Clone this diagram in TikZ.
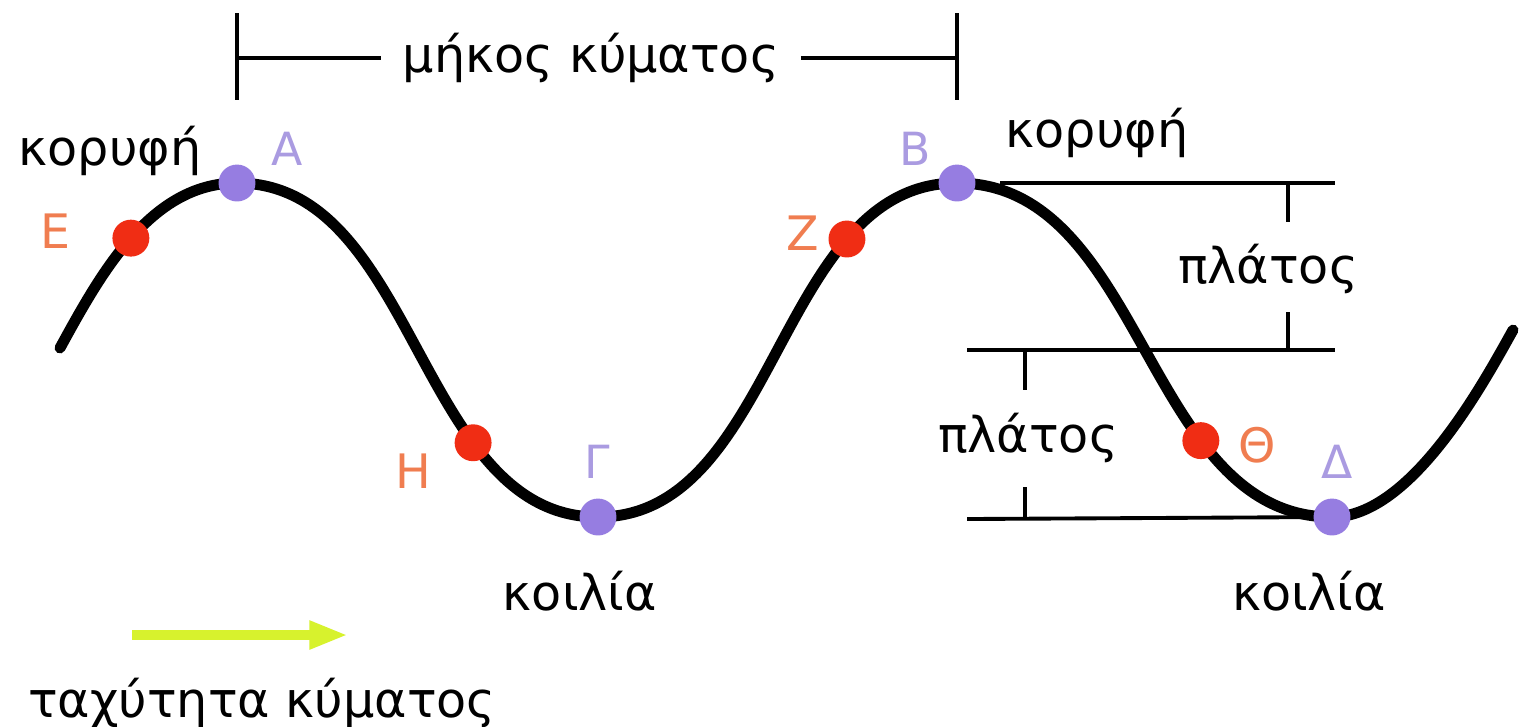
\documentclass[tikz,border=0pt]{standalone}
\usepackage{fontspec}
\setmainfont{DejaVu Sans}
\usepackage{tikz}
\usetikzlibrary{arrows.meta,positioning}
\definecolor{crestpurple}{RGB}{150,125,225}
\definecolor{letterpurple}{RGB}{170,155,225}
\definecolor{pointred}{RGB}{240,45,20}
\definecolor{letterorange}{RGB}{240,125,80}
\definecolor{speedgreen}{RGB}{215,242,45}
\tikzset{
  wave/.style={line width=3.1pt,line cap=round},
  bar/.style={line width=1.1pt},
  purpdot/.style={circle,fill=crestpurple,inner sep=0pt,minimum size=10.5pt},
  reddot/.style={circle,fill=pointred,inner sep=0pt,minimum size=10.5pt},
  purplabel/.style={text=letterpurple,font=\fontsize{13}{15}\selectfont,anchor=base},
  redlabel/.style={text=letterorange,font=\fontsize{13.5}{15}\selectfont,anchor=base},
  word/.style={font=\fontsize{14}{16}\selectfont,anchor=base}
}

\begin{document}
\begin{tikzpicture}[x=0.01cm,y=-0.01cm,line join=round]
\useasboundingbox[fill=white] (0,0) rectangle (1519,726);
% the wave with its points
\draw[wave] (60,348) .. controls (100,275) and (150,183) .. (237,183)
  node[pos=0.5,reddot] (E) {} node[purpdot] (A) {}
  .. controls (417,183) and (418,517) .. (598,517)
  node[pos=0.695,reddot] (H) {} node[purpdot] (G) {}
  .. controls (778,517) and (777,183) .. (957,183)
  node[pos=0.74,reddot] (Z) {} node[purpdot] (B) {}
  .. controls (1145,183) and (1145,517) .. (1332,517)
  node[pos=0.69,reddot] (Th) {} node[purpdot] (D) {}
  .. controls (1412,517) and (1485,380) .. (1513,330);
% point letters
\node[purplabel] (lA) at (287,165) {Α};
\node[purplabel] (lB) at (915,165) {Β};
\node[purplabel] (lG) at (597,478) {Γ};
\node[purplabel] (lD) at (1337,478) {Δ};
\node[redlabel] (lE) at (55,248) {Ε};
\node[redlabel] (lZ) at (803,250) {Ζ};
\node[redlabel] (lH) at (413,488) {Η};
\node[redlabel] (lTh) at (1257,462) {Θ};
% words
\node[word] (crestL) at (110,165) {κορυφή};
\node[word] (crestR) at (1097,147) {κορυφή};
\node[word] (troughL) at (580,610) {κοιλία};
\node[word] (troughR) at (1309,610) {κοιλία};
\node[word] (ampU) at (1268,283) {πλάτος};
\node[word] (ampL) at (1028,452) {πλάτος};
\node[word] (speed) at (262,717) {ταχύτητα κύματος};
% wavelength
\node[word,inner sep=6pt] (wl) at (591,72) {μήκος κύματος};
\coordinate (wlL) at (237,58);
\coordinate (wlR) at (957,58);
\draw[bar] (237,13) -- (237,100);
\draw[bar] (957,13) -- (957,100);
\draw[bar] (wlL) -- (wlL -| wl.west);
\draw[bar] (wlR -| wl.east) -- (wlR);
% amplitude
\draw[bar] (1000,183) -- (1335,183);
\draw[bar] (967,350) -- (1335,350);
\draw[bar] (967,519) -- (D);
\draw[bar] (1288,183) -- (1288,222);
\draw[bar] (1288,312) -- (1288,350);
\draw[bar] (1025,350) -- (1025,390);
\draw[bar] (1025,487) -- (1025,519);
% wave speed
\draw[line width=3pt,speedgreen,-{Triangle[length=11pt,width=7.5pt]}] (132,635) -- (348,635);
\end{tikzpicture}
\end{document}
